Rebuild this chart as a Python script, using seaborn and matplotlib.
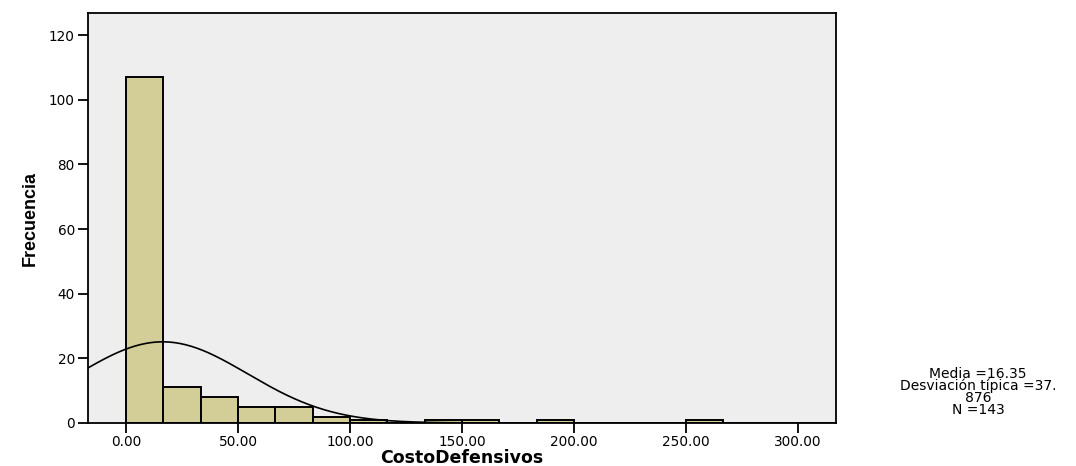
import numpy as np
import pandas as pd
import matplotlib
matplotlib.use("Agg")
import matplotlib.pyplot as plt
import seaborn as sns

# Histogram of CostoDefensivos: bin edges (width 16.67) and counts per bin
bin_edges = [0.0, 16.667, 33.333, 50.0, 66.667, 83.333, 100.0, 116.667, 133.333,
             150.0, 166.667, 183.333, 200.0, 216.667, 233.333, 250.0, 266.667]
counts = [107, 11, 8, 5, 5, 2, 1, 0, 1, 1, 0, 1, 0, 0, 0, 1]

# Summary statistics
media = 16.35
desviacion = 37.876
n_total = 143

x_ticks = [0, 50, 100, 150, 200, 250, 300]
y_ticks = [0, 20, 40, 60, 80, 100, 120]

sns.set_theme(style="ticks")
plt.rcParams["font.family"] = ["DejaVu Sans"]
plt.rcParams["text.color"] = "black"
plt.rcParams["axes.labelcolor"] = "black"
plt.rcParams["xtick.color"] = "black"
plt.rcParams["ytick.color"] = "black"

edges = np.array(bin_edges)
centers = (edges[:-1] + edges[1:]) / 2
df = pd.DataFrame({"CostoDefensivos": centers, "Frecuencia": counts})

fig = plt.figure(figsize=(10.76, 4.66), dpi=100)
ax = fig.add_axes([0.0818, 0.0923, 0.6952, 0.8797])
ax.set_facecolor("#EEEEEE")

sns.histplot(data=df, x="CostoDefensivos", weights="Frecuencia", bins=list(bin_edges),
             color="#D3CE97", alpha=1.0, edgecolor="black", linewidth=1.4, ax=ax)

# Normal curve scaled to counts
xlim = (-17, 317)
xs = np.linspace(xlim[0], xlim[1], 400)
width = edges[1] - edges[0]
ys = n_total * width / (desviacion * np.sqrt(2 * np.pi)) * np.exp(-0.5 * ((xs - media) / desviacion) ** 2)
sns.lineplot(x=xs, y=ys, color="black", linewidth=1.2, ax=ax)

ax.set_xlim(*xlim)
ax.set_ylim(0, 126.8)
ax.set_xticks(x_ticks)
ax.set_xticklabels([f"{v:.2f}" for v in x_ticks])
ax.set_yticks(y_ticks)
ax.tick_params(axis="both", direction="out", length=7.5, width=1.3, color="black",
               labelsize=9.8, pad=2)
ax.tick_params(axis="x", pad=1)
for sp in ax.spines.values():
    sp.set_visible(True)
    sp.set_color("black")
    sp.set_linewidth(1.3)

ax.set_xlabel("CostoDefensivos", fontsize=12.5, fontweight="bold", va="baseline")
ax.xaxis.set_label_coords(0.5, -0.0976)
ax.set_ylabel("Frecuencia", fontsize=13, fontweight="bold",
              family=["Liberation Sans Narrow", "Liberation Sans", "DejaVu Sans"], labelpad=7)

fig.text(0.909, 0.106,
         f"Media ={media:.2f}\nDesviación típica ={desviacion:.3f}".replace("37.876", "37.\n876")
         + f"\nN ={n_total}",
         ha="center", va="bottom", fontsize=10, linespacing=0.78)

fig.savefig("out.png", dpi=100, facecolor="white")
